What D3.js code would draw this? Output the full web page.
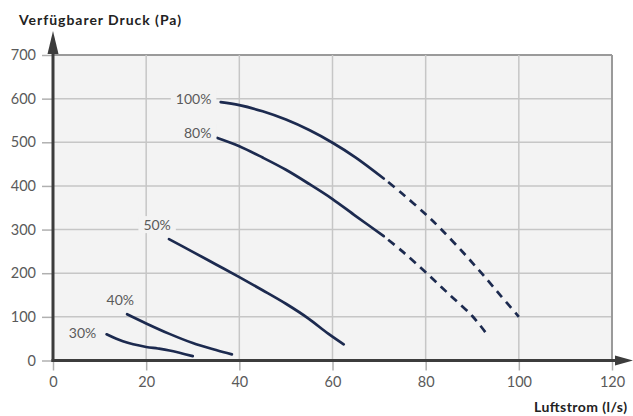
<!DOCTYPE html>
<html><head><meta charset="utf-8">
<script src="https://cdn.jsdelivr.net/npm/d3@7"></script>
<style>
html,body{margin:0;padding:0;background:#fff;}
svg{display:block;}
text{font-family:Lato,"Open Sans",sans-serif;}
</style></head>
<body>
<svg id="c" width="633" height="416"></svg>
<script>
// ---- data ----
const xTicks = [0, 20, 40, 60, 80, 100, 120];
const yTicks = [0, 100, 200, 300, 400, 500, 600, 700];
const seriesNames = ["100%", "80%", "50%", "40%", "30%"];
// solid (measured) portions
const solid100 = [[36,592],[40,585],[45,571],[50,552],[55,528],[60,499],[65,465],[71,417]];
const solid80  = [[35.3,510],[40,491],[45,465],[50,437],[55,404.5],[60,370],[65,331],[71,285]];
const solid50  = [[24.9,278],[30,249],[35,220],[40,191],[45,161],[50,130],[55,95],[59,62],[62.4,37]];
const solid40  = [[15.9,106],[20,85],[25,61],[30,40],[35,24],[38.4,14]];
const solid30  = [[11.5,60],[15,44],[20,31],[22.5,27.5],[25,23],[30,10]];
// dashed (extrapolated) portions
const dashed100 = [[71,417],[75,382],[80,335],[83.2,302],[88,248],[92,200],[96,150],[100,100]];
const dashed80  = [[71,285],[75,250],[80,202],[85,152],[90,102],[92.8,65]];
// label anchors (data units, text end)
const labelAt = [[34,600],[34,522],[25.3,310],[17.4,138],[9.3,62]];
const xTitle = "Luftstrom (l/s)";
const yTitle = "Verfügbarer Druck (Pa)";

// ---- drawing ----
const svg = d3.select("#c");
const x = d3.scaleLinear().domain([0,120]).range([53,612]);
const y = d3.scaleLinear().domain([0,700]).range([360.5,55]);
const navy = "#1c2a4f";

// plot background
svg.append("rect").attr("x",x(0)).attr("y",y(700)).attr("width",x(120)-x(0)).attr("height",y(0)-y(700)).attr("fill","#f3f3f3");

// grid
const g = svg.append("g");
g.selectAll("line.h").data(yTicks.filter(d=>d>0)).join("line")
  .attr("x1",x(0)).attr("x2",x(120)).attr("y1",d=>y(d)).attr("y2",d=>y(d))
  .attr("stroke",d=>d===700?"#9a9a9a":"#c6c6c6").attr("stroke-width",d=>d===700?2:1.5);
g.selectAll("line.v").data(xTicks.filter(d=>d>0)).join("line")
  .attr("x1",d=>x(d)).attr("x2",d=>x(d)).attr("y1",y(700)).attr("y2",y(0))
  .attr("stroke",d=>d===120?"#9a9a9a":"#c6c6c6").attr("stroke-width",d=>d===120?2:1.5);

// axes ticks & labels
const yAxis = d3.axisLeft(y).tickValues(yTicks).tickSize(11).tickPadding(6);
const ya = svg.append("g").attr("transform",`translate(${x(0)},0)`).call(yAxis);
ya.select(".domain").remove();
ya.selectAll(".tick line").attr("stroke","#b0b0b0").attr("stroke-width",1.5);
ya.selectAll(".tick text").attr("fill","#5a5a5a").style("font-size","14.5px").style("font-family","Lato,sans-serif");

const xAxis = d3.axisBottom(x).tickValues(xTicks).tickSize(10).tickPadding(6);
const xa = svg.append("g").attr("transform",`translate(0,${y(0)})`).call(xAxis);
xa.select(".domain").remove();
xa.selectAll(".tick line").attr("stroke","#b0b0b0").attr("stroke-width",1.5);
xa.selectAll(".tick text").attr("fill","#5a5a5a").style("font-size","14.5px").style("font-family","Lato,sans-serif");

// axis lines with arrows
svg.append("line").attr("x1",x(0)).attr("x2",x(0)).attr("y1",y(0)+1.5).attr("y2",48).attr("stroke","#3c3c3c").attr("stroke-width",3);
svg.append("path").attr("d",`M${x(0)},31 L${x(0)-5.5},54 L${x(0)+5.5},54 Z`).attr("fill","#3c3c3c");
svg.append("line").attr("x1",x(0)-1.5).attr("x2",620).attr("y1",y(0)).attr("y2",y(0)).attr("stroke","#3c3c3c").attr("stroke-width",3);
svg.append("path").attr("d",`M633,${y(0)} L615,${y(0)-5} L615,${y(0)+5} Z`).attr("fill","#3c3c3c");

// axis titles
svg.append("text").attr("x",19).attr("y",25).text(yTitle)
  .attr("textLength",162).attr("lengthAdjust","spacing")
  .attr("fill","#222").style("font-size","14px").style("font-weight","bold");
svg.append("text").attr("x",627).attr("y",412).attr("text-anchor","end").text(xTitle)
  .attr("textLength",93).attr("lengthAdjust","spacing")
  .attr("fill","#222").style("font-size","14px").style("font-weight","bold");

// curves
const line = d3.line().x(d=>x(d[0])).y(d=>y(d[1])).curve(d3.curveCatmullRom.alpha(0.5));
const solids = [solid100, solid80, solid50, solid40, solid30];
const dashes = [dashed100, dashed80];
svg.append("g").selectAll("path").data(solids).join("path")
  .attr("d",line).attr("fill","none").attr("stroke",navy).attr("stroke-width",2.7).attr("stroke-linecap","round");
svg.append("g").selectAll("path").data(dashes).join("path")
  .attr("d",line).attr("fill","none").attr("stroke",navy).attr("stroke-width",2.7)
  .attr("stroke-dasharray","8,6").attr("stroke-dashoffset",-6);

// curve labels with background patch
const lg = svg.append("g");
seriesNames.forEach((name,i)=>{
  const t = lg.append("text").attr("x",x(labelAt[i][0])).attr("y",y(labelAt[i][1])).attr("dy","0.35em")
    .attr("text-anchor","end").text(name).attr("fill","#5a5a5a").style("font-size","14px");
  const b = t.node().getBBox();
  lg.insert("rect","text").attr("x",b.x-5).attr("y",b.y).attr("width",b.width+10).attr("height",b.height).attr("fill","#f3f3f3");
});
</script>
</body></html>
